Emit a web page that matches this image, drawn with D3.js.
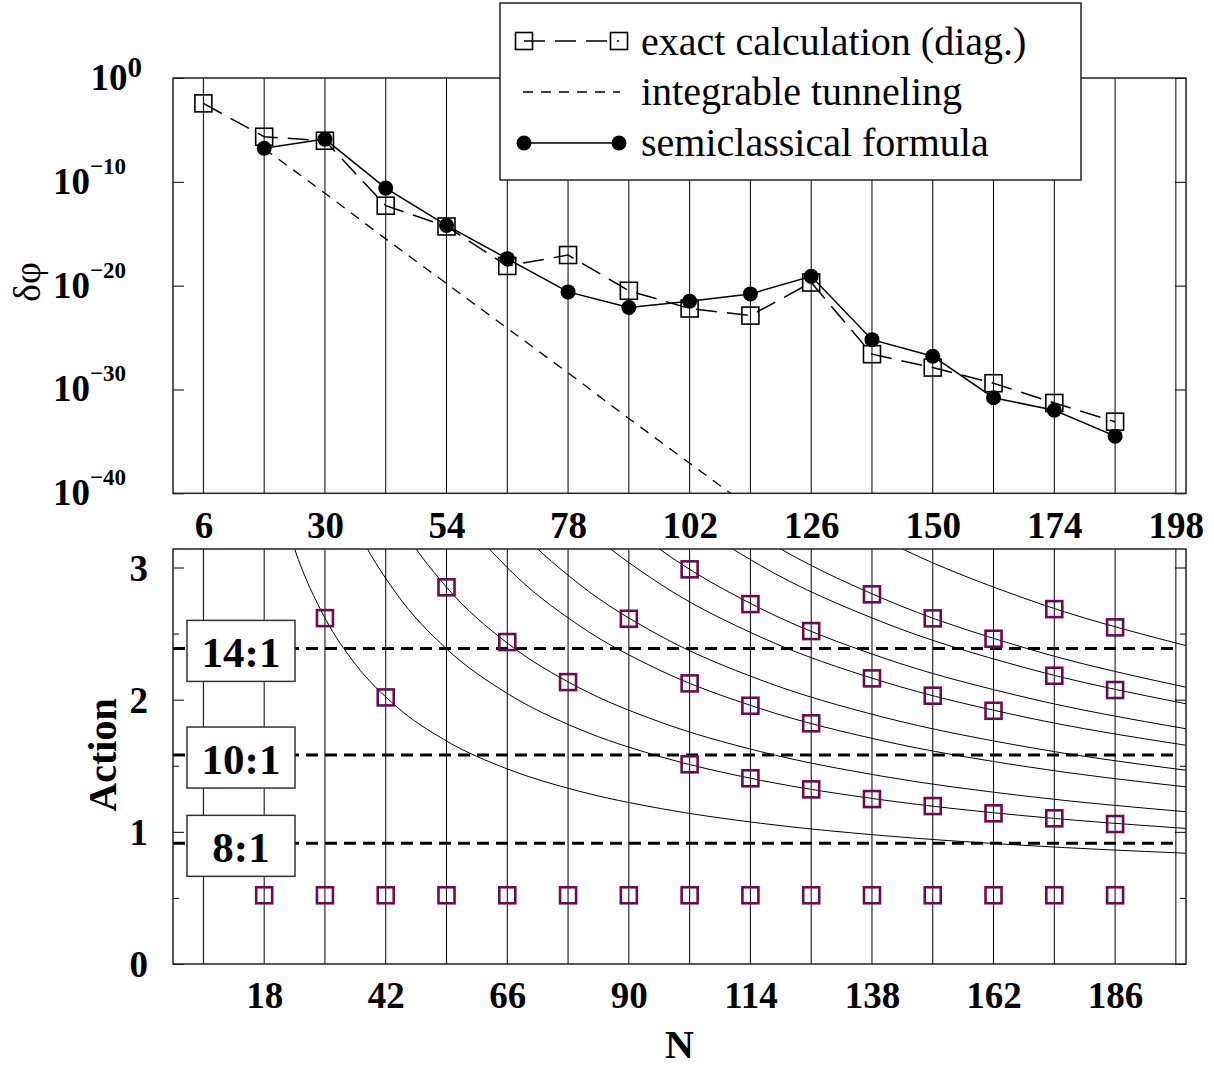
<!DOCTYPE html>
<html><head><meta charset="utf-8">
<script src="https://cdn.jsdelivr.net/npm/d3@7"></script>
<style>body{margin:0;background:#fff}svg{display:block}</style>
</head><body>
<svg id="c" width="1214" height="1067"></svg>
<script>
// ---------------- DATA ----------------
// Upper panel: tunneling splitting delta-phi vs N
const exactN   = [6, 18, 30, 42, 54, 66, 78, 90, 102, 114, 126, 138, 150, 162, 174, 186];
const exactVal = [3.6e-3, 2.2e-6, 9.1e-7, 5.0e-13, 5.0e-15, 7.9e-19, 8.9e-18, 3.2e-21, 6.3e-23, 1.3e-23, 2.0e-20, 2.5e-27, 1.3e-28, 4.0e-30, 5.0e-32, 7.9e-34];
const semiN    = [18, 30, 42, 54, 66, 78, 90, 102, 114, 126, 138, 150, 162, 174, 186];
const semiVal  = [1.7e-7, 1.3e-6, 2.5e-11, 6.3e-15, 4.0e-18, 2.5e-21, 7.9e-23, 3.2e-22, 1.6e-21, 7.9e-20, 6.3e-26, 1.6e-27, 1.6e-31, 1.0e-32, 3.2e-35];
const integN   = [18, 30, 42, 54, 66, 78, 90, 102, 114];
const integVal = [1.6e-7, 7.9e-12, 3.2e-16, 1.6e-20, 7.9e-25, 4.0e-29, 1.6e-33, 7.9e-38, 4.0e-42];
const legendLabels = ["exact calculation (diag.)", "integrable tunneling", "semiclassical formula"];

// axes / ticks
const gridN      = [6, 18, 30, 42, 54, 66, 78, 90, 102, 114, 126, 138, 150, 162, 174, 186, 198];
const topTickN   = [6, 30, 54, 78, 102, 126, 150, 174, 198];
const topTickExp = [0, -10, -20, -30, -40];
const botTickN   = [18, 42, 66, 90, 114, 138, 162, 186];
const botTickA   = [0, 1, 2, 3];
const botMinorA  = [0.5, 1.5, 2.5];

// Lower panel: actions
const groundN = [18, 30, 42, 54, 66, 78, 90, 102, 114, 126, 138, 150, 162, 174, 186];
const groundA = [0.52, 0.52, 0.52, 0.52, 0.52, 0.52, 0.52, 0.52, 0.52, 0.52, 0.52, 0.52, 0.52, 0.52, 0.52];
const levelN  = [30, 42, 54, 66, 78, 90, 102, 102, 102, 114, 114, 114, 126, 126, 126, 138, 138, 138, 150, 150, 150, 162, 162, 162, 174, 174, 174, 186, 186, 186];
const levelA  = [2.617, 2.017, 2.85, 2.436, 2.133, 2.612, 2.986, 2.123, 1.511, 2.723, 1.954, 1.405, 2.519, 1.821, 1.321, 2.797, 2.161, 1.248, 2.615, 2.030, 1.195, 2.461, 1.916, 1.140, 2.685, 2.181, 1.102, 2.547, 2.073, 1.059];

const resonanceLabels = ["14:1", "10:1", "8:1"];
const resonanceA      = [2.388, 1.581, 0.913];

// thin curves, values read at these N
const curveN = [20, 24, 30, 36, 44, 54, 66, 80, 96, 116, 140, 168, 200];
const curve1  = [3.665, 3.142, 2.618, 2.269, 1.952, 1.687, 1.476, 1.309, 1.178, 1.065, 0.972, 0.898, 0.838];
const curve2  = [null, null, 3.875, 3.316, 2.808, 2.385, 2.047, 1.780, 1.571, 1.390, 1.242, 1.122, 1.026];
const curve3  = [null, null, null, 4.014, 3.379, 2.851, 2.428, 2.094, 1.833, 1.607, 1.421, 1.272, 1.152];
const curve4  = [null, null, null, null, 4.237, 3.549, 2.999, 2.566, 2.225, 1.932, 1.690, 1.496, 1.340];
const curve5  = [null, null, null, null, null, 4.014, 3.380, 2.880, 2.487, 2.149, 1.870, 1.646, 1.466];
const curve6  = [null, null, null, null, null, null, 3.951, 3.351, 2.880, 2.474, 2.139, 1.870, 1.655];
const curve7  = [null, null, null, null, null, null, 4.332, 3.665, 3.142, 2.690, 2.319, 2.020, 1.780];
const curve8  = [null, null, null, null, null, null, null, 4.137, 3.534, 3.015, 2.588, 2.244, 1.969];
const curve9  = [null, null, null, null, null, null, null, null, 3.796, 3.232, 2.768, 2.394, 2.094];
const curve10 = [null, null, null, null, null, null, null, null, null, 3.774, 3.217, 2.768, 2.409];
const curves = [curve1, curve2, curve3, curve4, curve5, curve6, curve7, curve8, curve9, curve10];

// ---------------- DRAWING ----------------
const FONT = "'Liberation Serif','Times New Roman',Times,serif";
const svg = d3.select("#c");
const L = 173, R = 1186, T1 = 78, B1 = 493.3, T2 = 549, B2 = 964;
const PURPLE = "#6e0a50";

const x  = d3.scaleLinear().domain([0, 200]).range([L, R]);
const yT = d3.scaleLog().domain([1e-40, 1]).range([B1, T1]);
const yB = d3.scaleLinear().domain([0, 3.14]).range([B2, T2]);

const defs = svg.append("defs");
defs.append("clipPath").attr("id", "clipT").append("rect").attr("x", L).attr("y", T1).attr("width", R - L).attr("height", B1 - T1);
defs.append("clipPath").attr("id", "clipB").append("rect").attr("x", L).attr("y", T2).attr("width", R - L).attr("height", B2 - T2);

// vertical grid lines
[[T1, B1], [T2, B2]].forEach(([t, b]) => {
  svg.append("g").selectAll("line").data(gridN).join("line")
    .attr("x1", d => x(d)).attr("x2", d => x(d)).attr("y1", t).attr("y2", b)
    .attr("stroke", "#000").attr("stroke-width", 1);
});

// ---- top panel ----
const lineT = d3.line().x(d => x(d[0])).y(d => yT(d[1]));
svg.append("path").attr("d", lineT(d3.zip(integN, integVal))).attr("clip-path", "url(#clipT)")
  .attr("fill", "none").attr("stroke", "#000").attr("stroke-width", 1.3).attr("stroke-dasharray", "10,8");
svg.append("path").attr("d", lineT(d3.zip(exactN, exactVal)))
  .attr("fill", "none").attr("stroke", "#000").attr("stroke-width", 1.5).attr("stroke-dasharray", "21,10");
svg.append("g").selectAll("rect").data(d3.zip(exactN, exactVal)).join("rect")
  .attr("x", d => x(d[0]) - 8.5).attr("y", d => yT(d[1]) - 8.5).attr("width", 17).attr("height", 17)
  .attr("fill", "none").attr("stroke", "#000").attr("stroke-width", 1.6);
svg.append("path").attr("d", lineT(d3.zip(semiN, semiVal)))
  .attr("fill", "none").attr("stroke", "#000").attr("stroke-width", 1.5);
svg.append("g").selectAll("circle").data(d3.zip(semiN, semiVal)).join("circle")
  .attr("cx", d => x(d[0])).attr("cy", d => yT(d[1])).attr("r", 7.5).attr("fill", "#000");

// top ticks (inward)
const topTickVals = topTickExp.map(e => Math.pow(10, e));
svg.append("g").attr("transform", `translate(${L},0)`)
  .call(d3.axisLeft(yT).tickValues(topTickVals).tickSize(-11).tickFormat(""))
  .call(g => g.select(".domain").remove());
svg.append("g").attr("transform", `translate(${R},0)`)
  .call(d3.axisRight(yT).tickValues(topTickVals).tickSize(-11).tickFormat(""))
  .call(g => g.select(".domain").remove());

// top x labels
svg.append("g").attr("transform", `translate(0,${B1})`)
  .call(d3.axisBottom(x).tickValues(topTickN).tickSize(0).tickFormat(d3.format("d")))
  .call(g => g.select(".domain").remove())
  .call(g => g.selectAll("text").attr("y", 45).attr("dy", 0)
     .attr("font-family", FONT).attr("font-weight", "bold").attr("font-size", 37).attr("fill", "#000"));

// top y labels 10^k
topTickExp.forEach(e => {
  const t = svg.append("text").attr("x", e === 0 ? 142 : 126).attr("y", yT(Math.pow(10, e)) + 12)
    .attr("text-anchor", "end").attr("font-family", FONT).attr("font-weight", "bold").attr("font-size", 37);
  t.append("tspan").text("10");
  t.append("tspan").attr("dy", e === 0 ? -13 : -20).attr("font-size", e === 0 ? 29 : 23)
    .text(e === 0 ? "0" : "\u2212" + Math.abs(e));
});
svg.append("text").attr("transform", "translate(40,282) rotate(-90)")
  .attr("text-anchor", "middle").attr("font-family", FONT).attr("font-size", 38).text("\u03b4\u03c6");

svg.append("rect").attr("x", L).attr("y", T1).attr("width", R - L).attr("height", B1 - T1)
  .attr("fill", "none").attr("stroke", "#222").attr("stroke-width", 1.5);

// legend
const lg = svg.append("g");
lg.append("rect").attr("x", 500).attr("y", 3).attr("width", 581).attr("height", 177)
  .attr("fill", "#fff").attr("stroke", "#222").attr("stroke-width", 1.5);
const legY = [41, 92, 143], legBase = [55, 105, 156];
const lx1 = 524, lx2 = 619;
lg.append("line").attr("x1", lx1).attr("x2", lx2).attr("y1", legY[0]).attr("y2", legY[0])
  .attr("stroke", "#000").attr("stroke-width", 1.5).attr("stroke-dasharray", "21,10");
[lx1, lx2].forEach(px => lg.append("rect").attr("x", px - 8.5).attr("y", legY[0] - 8.5).attr("width", 17).attr("height", 17)
  .attr("fill", "none").attr("stroke", "#000").attr("stroke-width", 1.6));
lg.append("line").attr("x1", lx1 - 1).attr("x2", lx2 + 1).attr("y1", legY[1]).attr("y2", legY[1])
  .attr("stroke", "#000").attr("stroke-width", 1.3).attr("stroke-dasharray", "10,8");
lg.append("line").attr("x1", lx1).attr("x2", lx2).attr("y1", legY[2]).attr("y2", legY[2])
  .attr("stroke", "#000").attr("stroke-width", 1.5);
[lx1, lx2].forEach(px => lg.append("circle").attr("cx", px).attr("cy", legY[2]).attr("r", 7.5).attr("fill", "#000"));
legendLabels.forEach((s, i) => lg.append("text").attr("x", 641).attr("y", legBase[i])
  .attr("font-family", FONT).attr("font-size", 40).text(s));

// ---- bottom panel ----
const lineB = d3.line().defined(d => d[1] != null).x(d => x(d[0])).y(d => yB(d[1])).curve(d3.curveMonotoneX);
const cg = svg.append("g").attr("clip-path", "url(#clipB)");
curves.forEach(c => cg.append("path").attr("d", lineB(d3.zip(curveN, c)))
  .attr("fill", "none").attr("stroke", "#000").attr("stroke-width", 1));

// resonance dashed lines
svg.append("g").selectAll("line").data(resonanceA).join("line")
  .attr("x1", x(0)).attr("x2", x(198)).attr("y1", d => yB(d)).attr("y2", d => yB(d))
  .attr("stroke", "#000").attr("stroke-width", 3).attr("stroke-dasharray", "12,7");

// squares
const sq = svg.append("g");
sq.selectAll("rect.g").data(d3.zip(groundN, groundA)).join("rect").attr("class", "g")
  .attr("x", d => x(d[0]) - 8).attr("y", d => yB(d[1]) - 8).attr("width", 16).attr("height", 16)
  .attr("fill", "none").attr("stroke", PURPLE).attr("stroke-width", 2.6);
sq.selectAll("rect.l").data(d3.zip(levelN, levelA)).join("rect").attr("class", "l")
  .attr("x", d => x(d[0]) - 8).attr("y", d => yB(d[1]) - 8).attr("width", 16).attr("height", 16)
  .attr("fill", "none").attr("stroke", PURPLE).attr("stroke-width", 2.6);

// label boxes
resonanceA.forEach((a, i) => {
  const yy = yB(a);
  svg.append("rect").attr("x", 187).attr("y", yy - 28).attr("width", 108).attr("height", 61)
    .attr("fill", "#fff").attr("stroke", "#333").attr("stroke-width", 1.5);
  svg.append("text").attr("x", 241).attr("y", yy + 19).attr("text-anchor", "middle")
    .attr("font-family", FONT).attr("font-weight", "bold").attr("font-size", 43).text(resonanceLabels[i]);
});

// bottom ticks
[[L, d3.axisLeft], [R, d3.axisRight]].forEach(([px, ax]) => {
  svg.append("g").attr("transform", `translate(${px},0)`)
    .call(ax(yB).tickValues(botTickA).tickSize(-11).tickFormat(""))
    .call(g => g.select(".domain").remove());
  svg.append("g").attr("transform", `translate(${px},0)`)
    .call(ax(yB).tickValues(botMinorA).tickSize(-6).tickFormat(""))
    .call(g => g.select(".domain").remove());
});
svg.append("g").attr("transform", `translate(${L},0)`)
  .call(d3.axisLeft(yB).tickValues(botTickA).tickSize(0).tickFormat(d3.format("d")))
  .call(g => g.select(".domain").remove())
  .call(g => g.selectAll("text").attr("x", -25).attr("dy", "0.34em")
     .attr("font-family", FONT).attr("font-weight", "bold").attr("font-size", 37).attr("fill", "#000"));
svg.append("g").attr("transform", `translate(0,${B2})`)
  .call(d3.axisBottom(x).tickValues(botTickN).tickSize(0).tickFormat(d3.format("d")))
  .call(g => g.select(".domain").remove())
  .call(g => g.selectAll("text").attr("y", 44).attr("dy", 0)
     .attr("font-family", FONT).attr("font-weight", "bold").attr("font-size", 37).attr("fill", "#000"));

svg.append("rect").attr("x", L).attr("y", T2).attr("width", R - L).attr("height", B2 - T2)
  .attr("fill", "none").attr("stroke", "#222").attr("stroke-width", 1.5);

svg.append("text").attr("transform", "translate(116,755) rotate(-90)").attr("text-anchor", "middle")
  .attr("font-family", FONT).attr("font-weight", "bold").attr("font-size", 40).text("Action");
svg.append("text").attr("x", (L + R) / 2).attr("y", 1058).attr("text-anchor", "middle")
  .attr("font-family", FONT).attr("font-weight", "bold").attr("font-size", 40).text("N");
</script>
</body></html>
